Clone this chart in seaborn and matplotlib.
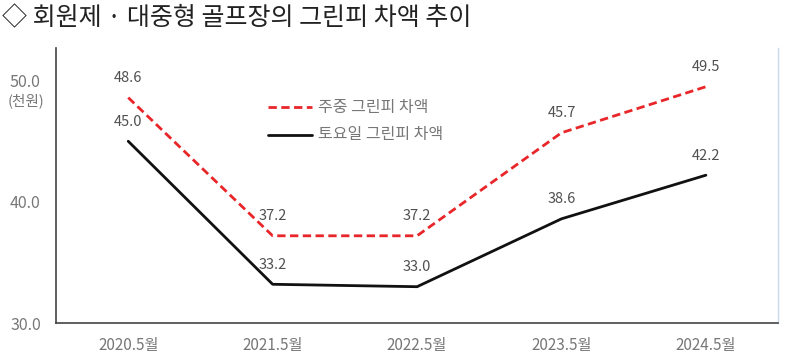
import pandas as pd
import seaborn as sns
import matplotlib.pyplot as plt

# Data
periods = ['2020.5월', '2021.5월', '2022.5월', '2023.5월', '2024.5월']
weekday_diff = [48.6, 37.2, 37.2, 45.7, 49.5]
saturday_diff = [45.0, 33.2, 33.0, 38.6, 42.2]
series_names = ['주중 그린피 차액', '토요일 그린피 차액']

df = pd.DataFrame({
    'period': periods * 2,
    'x': list(range(len(periods))) * 2,
    'value': weekday_diff + saturday_diff,
    'series': [series_names[0]] * len(periods) + [series_names[1]] * len(periods),
})

sns.set_style('white')
plt.rcParams['font.family'] = ['Noto Sans CJK KR', 'DejaVu Sans']

fig = plt.figure(figsize=(7.97, 3.63), dpi=100)
ax = fig.add_axes([0.0703, 0.110, 0.906, 0.758])

sns.lineplot(data=df, x='x', y='value', hue='series', style='series',
             palette=['#e8262a', '#111111'], dashes=[(3, 1.6), ''],
             linewidth=2, ax=ax, legend=False)

# Value labels
for vals in (weekday_diff, saturday_diff):
    for i, v in enumerate(vals):
        ax.annotate(f'{v:.1f}', (i, v), xytext=(0, 9), textcoords='offset points',
                    ha='center', va='bottom', fontsize=10.5, color='#505050')

ax.set_xlim(-0.5, len(periods) - 0.5)
ax.set_ylim(30, 52.7)
ax.set_yticks([30, 40, 50])
ax.set_yticklabels(['30.0', '40.0', '50.0'], color='#777777', fontsize=11.5)
ax.set_xticks(range(len(periods)))
ax.set_xticklabels(periods, color='#777777', fontsize=11)
ax.tick_params(axis='x', length=0, pad=10)
ax.tick_params(axis='y', length=0, pad=11)
ax.set_xticks([0.5, 1.5, 2.5, 3.5], minor=True)
ax.tick_params(axis='x', which='minor', direction='in', length=4, color='#333333')
ax.set_xlabel('')
ax.set_ylabel('')

for side in ['left', 'bottom']:
    ax.spines[side].set_color('#444444')
    ax.spines[side].set_linewidth(1.2)
ax.spines['top'].set_visible(False)
ax.spines['right'].set_color('#c9d8ea')
ax.spines['right'].set_linewidth(1)

# unit label under the top y tick
fig.text(26 / 797, 1 - 101 / 363, '(천원)', ha='center', va='center',
         fontsize=10.5, color='#777777')

# Legend drawn manually inside the axes
ax.plot([0.294, 0.355], [0.785, 0.785], transform=ax.transAxes, color='#e8262a',
        linestyle=(0, (3, 1.6)), linewidth=2)
ax.plot([0.294, 0.355], [0.684, 0.684], transform=ax.transAxes, color='#111111',
        linewidth=2)
ax.text(0.363, 0.785, series_names[0], transform=ax.transAxes, va='center',
        fontsize=11.5, color='#777777')
ax.text(0.363, 0.684, series_names[1], transform=ax.transAxes, va='center',
        fontsize=11.5, color='#777777')

fig.text(0.003, 0.95, '◇ 회원제 · 대중형 골프장의 그린피 차액 추이', ha='left', va='center',
         fontsize=18, color='#222222')

fig.savefig('out.png', dpi=100)
